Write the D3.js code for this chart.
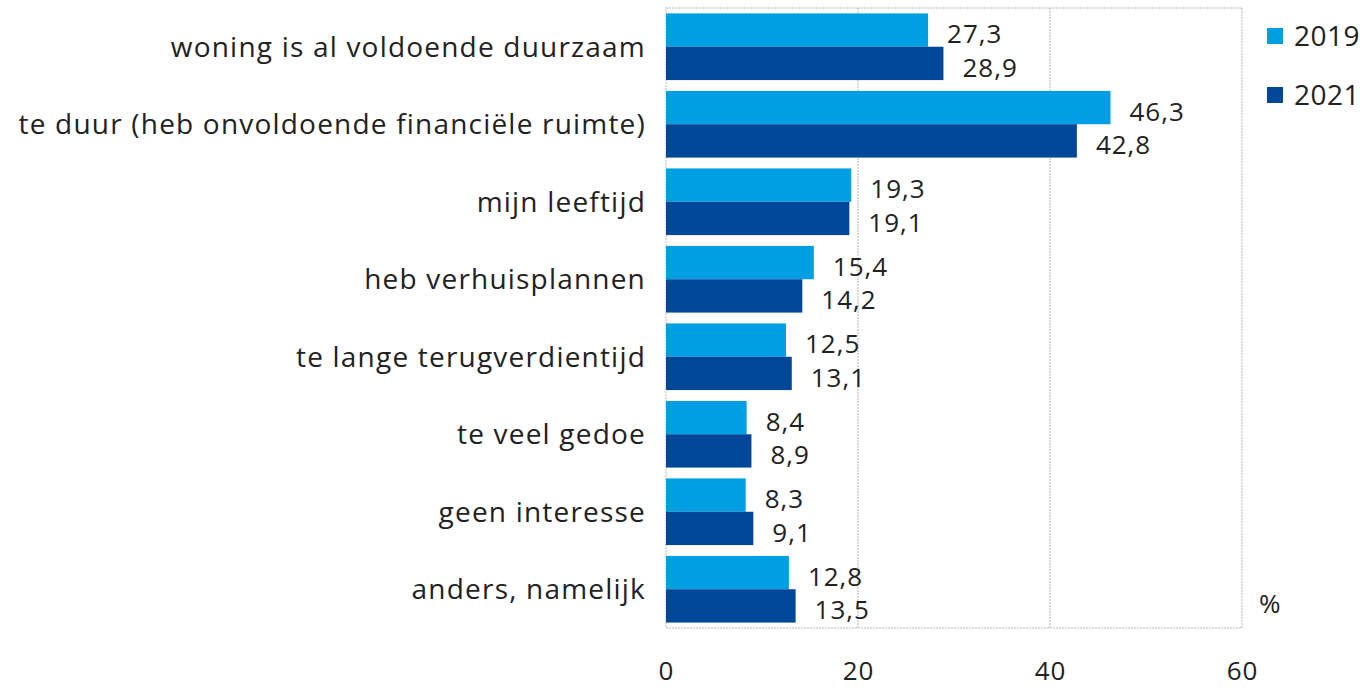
<!DOCTYPE html>
<html>
<head>
<meta charset="utf-8">
<script src="https://cdn.jsdelivr.net/npm/d3@7"></script>
<style>
  body { margin: 0; background: #fff; }
  text { font-family: "Open Sans", "Noto Sans", sans-serif; fill: #222; }
</style>
</head>
<body>
<svg id="chart" width="1366" height="691"></svg>
<script>
const categories = [
  "woning is al voldoende duurzaam",
  "te duur (heb onvoldoende financiële ruimte)",
  "mijn leeftijd",
  "heb verhuisplannen",
  "te lange terugverdientijd",
  "te veel gedoe",
  "geen interesse",
  "anders, namelijk",
];
const years = ["2019", "2021"];
const values2019 = [27.3, 46.3, 19.3, 15.4, 12.5, 8.4, 8.3, 12.8];
const values2021 = [28.9, 42.8, 19.1, 14.2, 13.1, 8.9, 9.1, 13.5];
const ticks = [0, 20, 40, 60];

const colors = d3.scaleOrdinal(years, ["#009fe3", "#00479a"]);

const margin = { top: 8, left: 666, right: 124, bottom: 63 };
const width = 1366 - margin.left - margin.right;
const height = 691 - margin.top - margin.bottom;

const svg = d3.select("#chart");
const g = svg.append("g").attr("transform", `translate(${margin.left},${margin.top})`);

const x = d3.scaleLinear().domain([0, 60]).range([0, width]);
const y = d3.scaleBand().domain(categories).range([0, height]).paddingInner(0.14).paddingOuter(0.07);
const y2 = d3.scaleBand().domain(years).range([0, y.bandwidth()]);

// plot border + gridlines (dotted, light grey)
g.append("rect")
  .attr("width", width).attr("height", height)
  .attr("fill", "none").attr("stroke", "#d0d0d0").attr("stroke-width", 1.5)
  .attr("stroke-dasharray", "2,1");

g.selectAll(".grid")
  .data(ticks.slice(1, -1))
  .enter().append("line")
  .attr("x1", (d) => x(d)).attr("x2", (d) => x(d))
  .attr("y1", 0).attr("y2", height)
  .attr("stroke", "#cccccc").attr("stroke-width", 1.5)
  .attr("stroke-dasharray", "2,1");

const rows = categories.map((c, i) => ({ cat: c, vals: [values2019[i], values2021[i]] }));

const groups = g.selectAll(".row")
  .data(rows)
  .enter().append("g")
  .attr("transform", (d) => `translate(0,${y(d.cat)})`);

groups.selectAll("rect")
  .data((d) => d.vals.map((v, j) => ({ year: years[j], v })))
  .enter().append("rect")
  .attr("x", 0)
  .attr("y", (d) => y2(d.year))
  .attr("width", (d) => x(d.v))
  .attr("height", y2.bandwidth())
  .attr("fill", (d) => colors(d.year));

groups.selectAll(".val")
  .data((d) => d.vals.map((v, j) => ({ year: years[j], v })))
  .enter().append("text")
  .attr("x", (d) => x(d.v) + 19)
  .attr("y", (d) => y2(d.year) + y2.bandwidth() / 2 + 4)
  .attr("dy", "0.35em")
  .attr("font-size", 26)
  .attr("letter-spacing", 1)
  .text((d) => String(d.v).replace(".", ","));

// category labels
g.selectAll(".cat")
  .data(categories)
  .enter().append("text")
  .attr("x", -20)
  .attr("y", (d) => y(d) + y.bandwidth() / 2)
  .attr("dy", "0.35em")
  .attr("text-anchor", "end")
  .attr("font-size", 28)
  .attr("letter-spacing", 1.2)
  .text((d) => d);

// x axis
const xAxis = g.append("g")
  .attr("transform", `translate(0,${height})`)
  .call(d3.axisBottom(x).tickValues(ticks).tickSize(0).tickPadding(34));
xAxis.select(".domain").remove();
xAxis.selectAll("text")
  .attr("font-size", 26)
  .attr("letter-spacing", 1)
  .style("font-family", '"Open Sans", sans-serif')
  .attr("fill", "#222");

g.append("text")
  .attr("x", width + 17)
  .attr("y", height - 15)
  .attr("font-size", 26)
  .text("%");

// legend
const legend = svg.append("g").attr("transform", "translate(1267,0)");
years.forEach((yr, i) => {
  const ly = 36 + i * 59;
  legend.append("rect")
    .attr("x", 0).attr("y", ly - 8).attr("width", 16).attr("height", 16)
    .attr("fill", colors(yr));
  legend.append("text")
    .attr("x", 27).attr("y", ly).attr("dy", "0.35em")
    .attr("font-size", 28)
    .attr("letter-spacing", 0.5)
    .text(yr);
});
</script>
</body>
</html>
